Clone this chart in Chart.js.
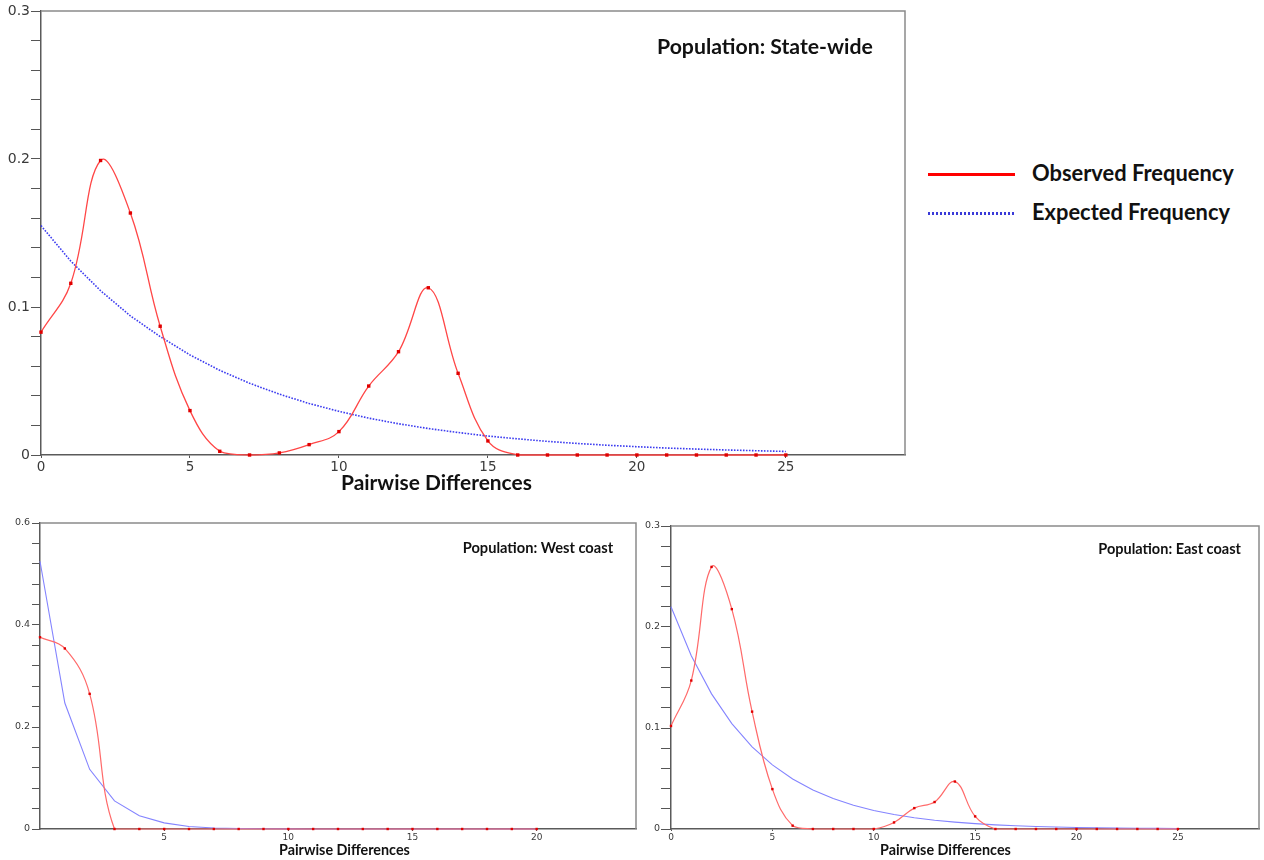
<!DOCTYPE html>
<html><head><meta charset="utf-8">
<script src="https://cdn.jsdelivr.net/npm/chart.js@4.4.1/dist/chart.umd.min.js"></script>
<style>
html,body{margin:0;padding:0;background:#fff;}
body{width:1264px;height:860px;position:relative;overflow:hidden;}
canvas{position:absolute;}
.txt{position:absolute;white-space:nowrap;font-weight:bold;line-height:1;color:#111;font-family:Lato,sans-serif;}
.lg{position:absolute;}
</style></head><body>
<canvas id="cTop" width="912" height="500" style="left:0px;top:0px"></canvas>
<canvas id="cWest" width="640" height="355" style="left:0px;top:505px"></canvas>
<canvas id="cEast" width="624" height="355" style="left:640px;top:505px"></canvas>
<div class="lg" style="left:928px;top:173px;width:87px;height:3px;background:#ff0000"></div>
<div class="lg" style="left:928px;top:212px;width:87px;height:2.5px;background:repeating-linear-gradient(to right,#3a3ad8 0 2px,transparent 2px 4px)"></div>
<script>
// ---- data ----
const diffs25 = [0,1,2,3,4,5,6,7,8,9,10,11,12,13,14,15,16,17,18,19,20,21,22,23,24,25];
const diffs20 = [0,1,2,3,4,5,6,7,8,9,10,11,12,13,14,15,16,17,18,19,20];

const stateObserved = [0.083,0.116,0.199,0.1635,0.087,0.030,0.0025,0,0.0014,0.007,0.0158,0.0466,0.0698,0.113,0.0552,0.0095,0,0,0,0,0,0,0,0,0,0];
const stateExpected = [0.155,0.131,0.111,0.094,0.080,0.0676,0.0572,0.0485,0.0411,0.0348,0.0295,0.0249,0.0211,0.0179,0.0152,0.0128,0.0109,0.0092,0.0078,0.0066,0.0056,0.0047,0.0040,0.0034,0.0029,0.0024];

const westObserved = [0.376,0.354,0.265,0,0,0,0,0,0,0,0,0,0,0,0,0,0,0,0,0,0];
const westExpected = [0.525,0.247,0.117,0.055,0.026,0.012,0.005,0.002,0.001,0.0005,0.0002,0.0001,0,0,0,0,0,0,0,0,0];

const eastObserved = [0.102,0.147,0.2595,0.2177,0.1162,0.0395,0.0033,0,0,0,0,0.0065,0.0207,0.0267,0.047,0.0125,0,0,0,0,0,0,0,0,0,0];
const eastExpected = [0.220,0.1716,0.1338,0.1044,0.0814,0.0635,0.0495,0.0386,0.0301,0.0235,0.0183,0.0143,0.0112,0.0087,0.0068,0.0053,0.0041,0.0032,0.0025,0.0020,0.0015,0.0012,0.0009,0.0007,0.0006,0.0004];

const xTicksTop = [0,5,10,15,20,25];
const xTicksWest = [5,10,15,20];
const xTicksEast = [0,5,10,15,20,25];
const yLabelsTop = [0,0.1,0.2,0.3];
const yLabelsWest = [0,0.2,0.4,0.6];
const yLabelsEast = [0,0.1,0.2,0.3];

// ---- helpers ----
const pts = (xs, ys) => xs.map((x,i)=>({x:x, y:ys[i]}));
const framePlugin = {
  id:'frame',
  beforeDatasetsDraw(chart){
    const a = chart.chartArea, c = chart.ctx;
    c.save(); c.strokeStyle='#8a8a8a'; c.lineWidth=1.5;
    c.beginPath(); c.moveTo(a.left,a.top); c.lineTo(a.right,a.top); c.lineTo(a.right,a.bottom); c.stroke();
    c.restore();
  }
};

function makeChart(id, o){
  const minorVals = [];
  for(let k=0;k<=Math.round(o.yMax/o.yMinor);k++) minorVals.push(+(k*o.yMinor).toFixed(6));
  return new Chart(document.getElementById(id), {
    type:'line',
    data:{datasets:[
      {label:'Observed Frequency', data:pts(o.xs,o.obs), borderColor:o.red, borderWidth:o.redW, tension:0.4,
       pointStyle:'rect', pointRadius:o.pr, pointBackgroundColor:'#e00000', pointBorderWidth:0, clip:false},
      {label:'Expected Frequency', data:pts(o.xs,o.exp), borderColor:o.blue, borderWidth:o.blueW, borderDash:o.dash,
       tension:0, pointRadius:0, clip:false}
    ]},
    options:{
      responsive:false, animation:false, events:[],
      layout:{padding:{top:o.padTop,right:o.padRight,left:0,bottom:0}},
      plugins:{legend:{display:false}, tooltip:{enabled:false}, title:{display:false}},
      scales:{
        x:{type:'linear', min:0, max:o.xMax,
           afterFit(s){ s.height=o.xH; },
           afterBuildTicks(s){ s.ticks = o.xTicks.map(v=>({value:v})); },
           ticks:{font:{family:'DejaVu Sans', size:o.xFont}, color:'#3a3a3a', padding:o.xPad, maxRotation:0, autoSkip:false},
           grid:{drawOnChartArea:false, tickLength:o.xTL, color:'#555', lineWidth:1},
           border:{color:'#5a5a5a', width:1.5}},
        y:{type:'linear', min:0, max:o.yMax,
           afterFit(s){ s.width=o.yW; },
           afterBuildTicks(s){ s.ticks = minorVals.map(v=>({value:v})); },
           ticks:{font:{family:'DejaVu Sans', size:o.yFont}, color:'#3a3a3a', padding:o.yPad, autoSkip:false,
             callback(v){ const m=o.yLabels.find(l=>Math.abs(l-v)<1e-6); return m===undefined?'':String(m); }},
           grid:{drawOnChartArea:false, tickLength:o.yTL, color:'#555', lineWidth:1},
           border:{color:'#5a5a5a', width:1.5}}
      }
    },
    plugins:[framePlugin]
  });
}

makeChart('cTop',{xs:diffs25, obs:stateObserved, exp:stateExpected, xMax:29, yMax:0.3, yMinor:0.02, yLabels:yLabelsTop,
  xTicks:xTicksTop, red:'#ff4646', redW:1.3, pr:2.4, blue:'#3c3cf0', blueW:1.6, dash:[1.6,1.4],
  padTop:11, padRight:7, xH:45, yW:41, xFont:13.5, yFont:14, xPad:1, xTL:3, yPad:1, yTL:10});
makeChart('cWest',{xs:diffs20, obs:westObserved, exp:westExpected, xMax:24, yMax:0.6, yMinor:0.04, yLabels:yLabelsWest,
  xTicks:xTicksWest, red:'#ff6a6a', redW:1.2, pr:1.7, blue:'#8484ff', blueW:1.1, dash:[],
  padTop:18, padRight:4, xH:31, yW:40, xFont:9, yFont:9.5, xPad:1.5, xTL:2, yPad:2, yTL:8});
makeChart('cEast',{xs:diffs25, obs:eastObserved, exp:eastExpected, xMax:29, yMax:0.3, yMinor:0.02, yLabels:yLabelsEast,
  xTicks:xTicksEast, red:'#ff6a6a', redW:1.2, pr:1.7, blue:'#8484ff', blueW:1.1, dash:[],
  padTop:21, padRight:5, xH:31, yW:31, xFont:9, yFont:9.5, xPad:1.5, xTL:2, yPad:1, yTL:10});

// ---- text labels ----
const mctx = document.createElement('canvas').getContext('2d');
function measure(text, size){
  mctx.font = 'bold '+size+'px Lato';
  return mctx.measureText(text);
}
function placeText(text, left, capMid, width, size){
  let F = size;
  if(!F){ const m = measure(text,100); F = 100*width/m.width; }
  const m = measure(text,F);
  const capH = measure('H',F).actualBoundingBoxAscent;
  const fa = m.fontBoundingBoxAscent, fd = m.fontBoundingBoxDescent;
  const baseOff = (F-(fa+fd))/2 + fa;
  const top = capMid + capH/2 - baseOff;
  const d = document.createElement('div');
  d.className='txt'; d.textContent=text;
  d.style.fontSize=F+'px'; d.style.left=left+'px'; d.style.top=top+'px';
  document.body.appendChild(d);
  return F;
}
placeText('Population: State-wide', 657, 47.3, 216);
const lf = placeText('Observed Frequency', 1032, 173.3, 202);
placeText('Expected Frequency', 1032, 211.7, 0, lf);
placeText('Pairwise Differences', 341, 483.3, 191);
placeText('Population: West coast', 462.7, 548.7, 150.6);
placeText('Population: East coast', 1098.3, 549.5, 142.7);
placeText('Pairwise Differences', 279, 850, 131);
placeText('Pairwise Differences', 880, 850, 131);
</script>
</body></html>
